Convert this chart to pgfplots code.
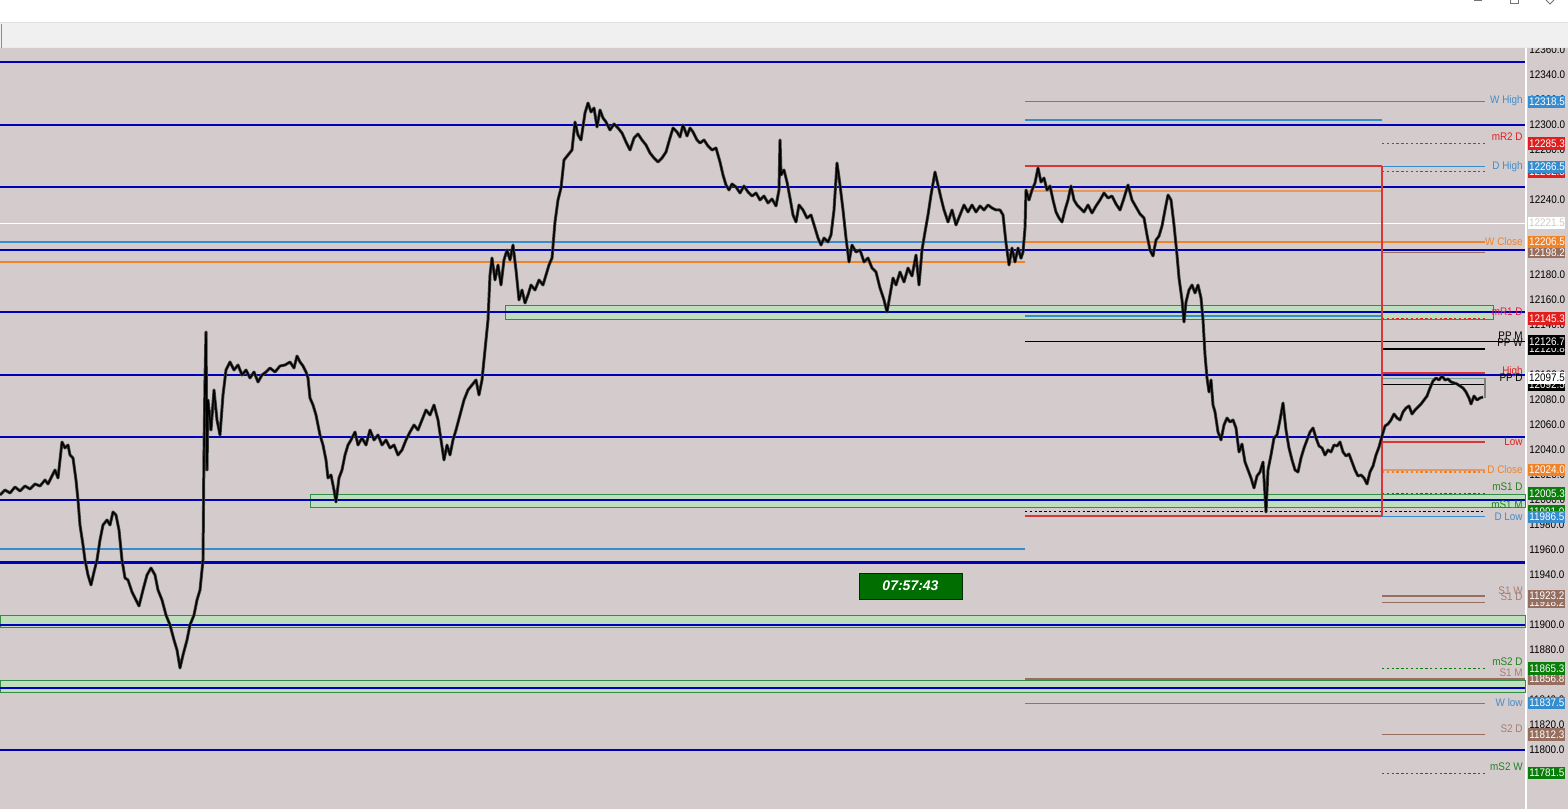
\documentclass[border=0pt]{standalone}
\usepackage{fontspec}
\setmainfont{Liberation Sans}
\newfontfamily\scalefam[FakeStretch=0.9]{Liberation Sans}
\usepackage{pgfplots}
\usepackage{pgfplotstable}
\pgfplotsset{compat=1.18}

\definecolor{chartbg}{RGB}{212,204,204}
\definecolor{lvlblue}{RGB}{0,0,185}
\definecolor{steel}{RGB}{55,140,205}
\definecolor{steeltxt}{RGB}{70,140,200}
\definecolor{lvlorange}{RGB}{240,130,40}
\definecolor{lightorange}{RGB}{235,150,90}
\definecolor{lvlred}{RGB}{225,30,30}
\definecolor{linered}{RGB}{215,55,55}
\definecolor{lvlbrown}{RGB}{150,110,95}
\definecolor{browntxt}{RGB}{165,125,115}
\definecolor{lvlgreen}{RGB}{10,125,10}
\definecolor{greentxt}{RGB}{30,130,30}
\definecolor{zonefill}{RGB}{190,222,190}
\definecolor{zoneedge}{RGB}{50,140,70}
\definecolor{ppteal}{RGB}{110,160,160}
\definecolor{toolbar}{RGB}{240,240,240}
\definecolor{clockgreen}{RGB}{0,110,0}

\newcommand{\lblfont}{\scalefam\fontsize{5.5}{6.5}\selectfont}

% traded price, one row per sampled bar position
\pgfplotstableread{
x p
0 12004
5 12008
10 12005.6
15 12010.4
20 12007.2
25 12011.2
30 12008.8
35 12012.8
40 12011.2
45 12016
48 12012.8
52 12019.2
55 12024
58 12017.6
62 12046.4
65 12041.6
68 12044
70 12036
73 12033.6
76 12016
78 12000
80 11980
83 11964
85 11952
88 11940
91 11932
94 11942.4
97 11952
100 11968
103 11980
107 11984
110 11980
113 11990.4
116 11988
119 11976
122 11952
125 11937.6
128 11936
132 11926.4
136 11920
139 11915.2
143 11928
147 11940
151 11945.6
155 11940
158 11928
162 11920
166 11908
170 11900
174 11888
177 11880
180 11865.6
183 11876
187 11888
190 11900
194 11908
197 11920
200 11928
203 11952
204 12040
205 12096
206 12134.4
207 12024
208 12080
211 12056
214 12088
217 12064
220 12052
223 12084
226 12104
230 12110.4
234 12104
238 12108
242 12100
246 12104
250 12097.6
254 12102.4
258 12094.4
262 12100
266 12102.4
270 12105.6
275 12102.4
280 12107.2
285 12108
290 12110.4
294 12105.6
297 12115.2
300 12110.4
303 12107.2
306 12102.4
308 12097.6
310 12081.6
313 12076
316 12068
320 12052
323 12044
326 12032
328 12017.6
331 12020
334 12008
336 11998.4
339 12017.6
342 12024
345 12036
348 12044
351 12048
355 12054.4
358 12044
362 12049.6
366 12044
370 12056
374 12048
378 12052
382 12044
386 12048
390 12041.6
394 12044
398 12036
402 12040
406 12048
410 12054.4
414 12060
418 12056
422 12064
426 12072
430 12068
434 12076
438 12064
441 12048
444 12032
447 12044
450 12036
453 12048
456 12056
460 12068
464 12080
468 12088
472 12092
476 12096
479 12084
482 12096
485 12120
488 12144
490 12180
492 12193.6
495 12176
498 12188
501 12172
504 12192
507 12200
510 12192
513 12204
516 12184
519 12160
522 12168
525 12157.6
528 12164
531 12172
535 12168
539 12176
543 12172
546 12180
549 12188
552 12193.6
555 12222.4
558 12240
561 12249.6
564 12272
568 12276
572 12280
575 12302.4
578 12292
581 12288
585 12309.6
588 12317.6
591 12310.4
594 12313.6
597 12298.4
600 12312
603 12305.6
606 12302.4
610 12296
614 12300.8
618 12297.6
622 12293.6
626 12286.4
630 12280
634 12289.6
638 12292.8
642 12288
646 12284
650 12277.6
654 12273.6
658 12270.4
662 12273.6
666 12278.4
670 12289.6
673 12297.6
677 12294.4
680 12290.4
683 12300
687 12291.2
690 12297.6
693 12294.4
697 12288
700 12285.6
704 12288
708 12283.2
712 12280
716 12281.6
720 12270.4
723 12260
726 12252
729 12248
732 12252.8
736 12250.4
740 12245.6
744 12251.2
748 12246.4
752 12243.2
756 12245.6
760 12240
764 12243.2
768 12237.6
772 12240.8
776 12235.2
779 12248
780 12288
781 12260
784 12264
787 12254.4
790 12241.6
793 12228
796 12222.4
799 12236
803 12232
807 12225.6
811 12228
815 12217.6
818 12209.6
821 12204
824 12209.6
828 12206.4
831 12212
834 12232
837 12269.6
840 12252
843 12232
846 12209.6
849 12190.4
852 12204
856 12198.4
860 12200
864 12190.4
868 12193.6
872 12185.6
876 12182.4
880 12169.6
884 12160
887 12150.4
890 12164
893 12177.6
896 12172
900 12182.4
904 12174.4
908 12185.6
912 12179.2
916 12196
919 12172
922 12200
925 12214.4
928 12228
931 12244
935 12262.4
938 12252
941 12241.6
944 12232
948 12222.4
952 12232
956 12220
960 12228
964 12236
968 12230.4
972 12236
976 12230.4
980 12235.2
984 12232
988 12236
992 12233.6
996 12232
1000 12232
1003 12228
1006 12205.6
1009 12188
1012 12201.6
1015 12190.4
1018 12201.6
1021 12193.4
1023 12198.4
1025 12217.6
1026 12248
1029 12240
1032 12248
1035 12253.6
1038 12265.6
1041 12254.4
1044 12257.6
1047 12248
1050 12251.2
1053 12240
1056 12230.4
1059 12225.6
1062 12222.4
1065 12232
1068 12240
1071 12251.2
1074 12240
1077 12236
1080 12233.6
1084 12230.4
1088 12236
1092 12229.6
1096 12235.2
1100 12240
1104 12245.6
1108 12241.6
1112 12243.2
1116 12236.8
1120 12232
1124 12241.6
1128 12252
1132 12240
1136 12234.4
1140 12228.8
1144 12225.6
1147 12212
1150 12200
1153 12195.2
1156 12208
1159 12211.2
1162 12219.2
1165 12232
1168 12244
1171 12240
1174 12220
1177 12196
1179 12177.6
1182 12160
1184 12142.4
1186 12158.4
1189 12168
1192 12172
1195 12165.6
1198 12172
1201 12161.6
1203 12144
1205 12116
1207 12097.6
1209 12086.4
1211 12096
1213 12076
1215 12070.4
1218 12054.4
1221 12048
1224 12060
1227 12065.6
1230 12062.4
1233 12064
1236 12057.6
1239 12038.4
1242 12044.8
1245 12030.4
1248 12024
1251 12017.6
1254 12009.6
1257 12019.2
1260 12022.4
1263 12030.4
1266 11990.4
1268 12024
1271 12036
1274 12049.6
1277 12052
1280 12064
1283 12077.6
1286 12056
1289 12041.6
1292 12032
1295 12024
1298 12022.4
1301 12033.6
1304 12041.6
1307 12048
1310 12054.4
1313 12057.6
1316 12049.6
1319 12043.2
1322 12041.6
1325 12036
1328 12040
1331 12038.4
1334 12044
1337 12043.2
1340 12046.4
1343 12038.4
1346 12035.2
1349 12036.8
1352 12030.4
1355 12024
1358 12019.2
1361 12020
1364 12017.6
1367 12012.8
1370 12022.4
1373 12027.2
1376 12036
1379 12042.4
1382 12051.2
1385 12059.2
1388 12060.8
1391 12064
1394 12068.8
1397 12065.6
1400 12064
1403 12070.4
1406 12073.6
1409 12075.2
1412 12068.8
1415 12072
1418 12074.4
1421 12076.8
1424 12080
1427 12083.2
1430 12089.6
1433 12095.2
1436 12097.6
1439 12096
1442 12099.2
1445 12096
1448 12096.8
1451 12094.4
1454 12093.6
1457 12092.8
1460 12091.2
1463 12089.6
1466 12086.4
1469 12081.6
1471 12076.8
1474 12083.2
1477 12080
1480 12081.6
1483 12082.4
}\pricetable

\begin{document}
\begin{tikzpicture}[
  pbox/.style={anchor=west, inner sep=0pt, minimum width=18.5pt, minimum height=6.2pt,
                text=white, font=\lblfont},
  lbl/.style={anchor=east, inner sep=0pt, font=\lblfont}]

\begin{axis}[
  at={(0,0)}, anchor=south west,
  scale only axis, width=762.5pt, height=380.5pt,
  xmin=0, xmax=1525, ymin=11752.8, ymax=12361.6,
  axis line style={draw=none},
  axis background/.style={fill=chartbg},
  xtick=\empty,
  ytick={11780,11800,...,12360},
  scaled y ticks=false,
  yticklabel pos=right,
  major tick length=0pt,
  yticklabel={\pgfmathprintnumber[fixed,fixed zerofill,precision=1,set thousands separator={},assume math mode=true]{\tick}},
  yticklabel style={font=\lblfont, anchor=west, inner sep=0pt, xshift=2pt},
  clip=false, set layers,
  lvl/.style={lvlblue, line width=1pt},
  zone/.style={fill=zonefill, draw=zoneedge, line width=0.5pt},
  thin/.style={line width=0.55pt},
  dsh/.style={line width=0.55pt, dash pattern=on 1.2pt off 1.2pt},
]

% price scale strip and separator, under the tick labels
\begin{pgfonlayer}{axis background}
\fill[chartbg] (axis cs:1525,11752.8) rectangle (axis cs:1568,12361.6);
\draw[white, line width=0.7pt] (axis cs:1526,11752.8) -- (axis cs:1526,12361.6);
\end{pgfonlayer}

% supply / demand zones
\addplot[zone] coordinates {(505,12144) (1493,12144) (1493,12155.2) (505,12155.2)} -- cycle;
\addplot[zone] coordinates {(310,11993.6) (1525,11993.6) (1525,12004) (310,12004)} -- cycle;
\addplot[zone] coordinates {(0,11898.4) (1525,11898.4) (1525,11908) (0,11908)} -- cycle;
\addplot[zone] coordinates {(0,11846.4) (1525,11846.4) (1525,11856) (0,11856)} -- cycle;

% round-number levels
\addplot[lvl] coordinates {(0,12350) (1525,12350)};
\addplot[lvl] coordinates {(0,12300) (1525,12300)};
\addplot[lvl] coordinates {(0,12250) (1525,12250)};
\addplot[lvl] coordinates {(0,12200) (1525,12200)};
\addplot[lvl] coordinates {(0,12150) (1525,12150)};
\addplot[lvl] coordinates {(0,12100) (1525,12100)};
\addplot[lvl] coordinates {(0,12050) (1525,12050)};
\addplot[lvl] coordinates {(0,12000) (1525,12000)};
\addplot[lvl] coordinates {(0,11950) (1525,11950)};
\addplot[lvl] coordinates {(0,11900) (1525,11900)};
\addplot[lvl] coordinates {(0,11850) (1525,11850)};
\addplot[lvl] coordinates {(0,11800) (1525,11800)};

% previous-session levels (left part)
\addplot[white, line width=0.6pt] coordinates {(0,12221.5) (1525,12221.5)};
\addplot[steel, thin] coordinates {(0,12206.4) (1025,12206.4)};
\addplot[lvlorange, line width=1pt] coordinates {(0,12190.4) (1025,12190.4)};
\addplot[steel, thin] coordinates {(0,11960.8) (1025,11960.8)};

% weekly / monthly levels
\addplot[steel, thin] coordinates {(1025,12318.5) (1485,12318.5)};
\addplot[steel, thin] coordinates {(1025,12304) (1382,12304)};
\addplot[linered, thin] coordinates {(1025,12267.2) (1382,12267.2)};
\addplot[lightorange, thin] coordinates {(1025,12247.2) (1382,12247.2)};
\addplot[lvlorange, line width=0.8pt] coordinates {(1025,12206.5) (1485,12206.5)};
\addplot[steel, thin] coordinates {(1025,12147.2) (1382,12147.2)};
\addplot[black, thin] coordinates {(1025,12126.7) (1525,12126.7)};
\addplot[black, dsh] coordinates {(1025,11991) (1485,11991)};
\addplot[linered, thin] coordinates {(1025,11987.2) (1382,11987.2)};
\addplot[lvlbrown, thin] coordinates {(1025,11856.8) (1525,11856.8)};
\addplot[steel, thin] coordinates {(1025,11837.5) (1485,11837.5)};

% daily levels
\addplot[lvlred, dsh] coordinates {(1382,12285.3) (1485,12285.3)};
\addplot[steel, thin] coordinates {(1382,12266.5) (1485,12266.5)};
\addplot[lvlred, dsh] coordinates {(1382,12262.5) (1485,12262.5)};
\addplot[lvlbrown, thin] coordinates {(1382,12198.2) (1485,12198.2)};
\addplot[lvlred, dsh] coordinates {(1382,12145.3) (1485,12145.3)};
\addplot[black, line width=1pt] coordinates {(1382,12120.8) (1485,12120.8)};
\addplot[linered, thin] coordinates {(1382,12101.6) (1485,12101.6)};
\addplot[ppteal, thin] coordinates {(1382,12097.5) (1485,12097.5)};
\addplot[black, thin] coordinates {(1382,12092.5) (1485,12092.5)};
\addplot[gray, thin] coordinates {(1485,12097.5) (1485,12081.6)};
\addplot[linered, thin] coordinates {(1382,12046.4) (1485,12046.4)};
\addplot[lightorange, thin] coordinates {(1382,12024) (1485,12024)};
\addplot[lvlorange, dsh] coordinates {(1382,12022.4) (1485,12022.4)};
\addplot[lvlgreen, dsh] coordinates {(1382,12005.3) (1485,12005.3)};
\addplot[steel, thin] coordinates {(1382,11986.5) (1485,11986.5)};
\addplot[lvlbrown, thin] coordinates {(1382,11923.2) (1485,11923.2)};
\addplot[lvlbrown, thin] coordinates {(1382,11918.2) (1485,11918.2)};
\addplot[lvlgreen, dsh] coordinates {(1382,11865.3) (1485,11865.3)};
\addplot[lvlbrown, thin] coordinates {(1382,11812.3) (1485,11812.3)};
\addplot[lvlgreen, dsh] coordinates {(1382,11781.5) (1485,11781.5)};
\addplot[linered, thin] coordinates {(1382,12267.2) (1382,11987.2)};

% price, drawn as a heavy grey band with a black core
\addplot[black!75, line width=1.5pt, line join=round] table[x=x, y=p] {\pricetable};
\addplot[black, line width=0.7pt, line join=round] table[x=x, y=p] {\pricetable};

% level names
\node[lbl, text=steeltxt] at (axis cs:1523,12319.2) {W High};
\node[lbl, text=lvlred] at (axis cs:1523,12290.4) {mR2 D};
\node[lbl, text=steeltxt] at (axis cs:1523,12266.4) {D High};
\node[lbl, text=lvlorange] at (axis cs:1523,12206.4) {W Close};
\node[lbl, text=lvlred!80!magenta] at (axis cs:1523,12150.4) {mR1 D};
\node[lbl, text=black] at (axis cs:1523,12131.2) {PP M};
\node[lbl, text=black] at (axis cs:1523,12125.6) {PP W};
\node[lbl, text=lvlred] at (axis cs:1523,12102.4) {High};
\node[lbl, text=black] at (axis cs:1523,12097.6) {PP D};
\node[lbl, text=lvlred] at (axis cs:1523,12046.4) {Low};
\node[lbl, text=lvlorange] at (axis cs:1523,12024) {D Close};
\node[lbl, text=greentxt] at (axis cs:1523,12010.4) {mS1 D};
\node[lbl, text=greentxt] at (axis cs:1523,11996) {mS1 M};
\node[lbl, text=steeltxt] at (axis cs:1523,11986.4) {D Low};
\node[lbl, text=browntxt] at (axis cs:1523,11927.2) {S1 W};
\node[lbl, text=browntxt] at (axis cs:1523,11922.4) {S1 D};
\node[lbl, text=greentxt] at (axis cs:1523,11870.4) {mS2 D};
\node[lbl, text=browntxt] at (axis cs:1523,11861.6) {S1 M};
\node[lbl, text=steeltxt] at (axis cs:1523,11837.6) {W low};
\node[lbl, text=browntxt] at (axis cs:1523,11816.8) {S2 D};
\node[lbl, text=greentxt] at (axis cs:1523,11786.4) {mS2 W};

% price tags on the scale
\node[pbox, fill=steel] at (axis cs:1528,12318.5) {12318.5};
\node[pbox, fill=lvlred] at (axis cs:1528,12285.3) {12285.3};
\node[pbox, fill=lvlred] at (axis cs:1528,12262.5) {12262.5};
\node[pbox, fill=steel] at (axis cs:1528,12266.5) {12266.5};
\node[pbox, fill=white, text=black!20] at (axis cs:1528,12221.5) {12221.5};
\node[pbox, fill=lvlbrown] at (axis cs:1528,12198.2) {12198.2};
\node[pbox, fill=lvlorange] at (axis cs:1528,12206.5) {12206.5};
\node[pbox, fill=lvlred] at (axis cs:1528,12145.3) {12145.3};
\node[pbox, fill=black] at (axis cs:1528,12120.8) {12120.8};
\node[pbox, fill=black] at (axis cs:1528,12126.7) {12126.7};
\node[pbox, fill=black] at (axis cs:1528,12092.5) {12092.5};
\node[pbox, fill=white, text=black] at (axis cs:1528,12097.5) {12097.5};
\node[pbox, fill=lvlorange] at (axis cs:1528,12024.0) {12024.0};
\node[pbox, fill=lvlgreen] at (axis cs:1528,11991.0) {11991.0};
\node[pbox, fill=lvlgreen] at (axis cs:1528,12005.3) {12005.3};
\node[pbox, fill=steel] at (axis cs:1528,11986.5) {11986.5};
\node[pbox, fill=lvlbrown] at (axis cs:1528,11918.2) {11918.2};
\node[pbox, fill=lvlbrown] at (axis cs:1528,11923.2) {11923.2};
\node[pbox, fill=lvlbrown] at (axis cs:1528,11856.8) {11856.8};
\node[pbox, fill=lvlgreen] at (axis cs:1528,11865.3) {11865.3};
\node[pbox, fill=steel] at (axis cs:1528,11837.5) {11837.5};
\node[pbox, fill=lvlbrown] at (axis cs:1528,11812.3) {11812.3};
\node[pbox, fill=lvlgreen] at (axis cs:1528,11781.5) {11781.5};

% session clock
\node[fill=clockgreen, draw=black!60!clockgreen, line width=0.4pt, inner sep=0pt,
      minimum width=51.5pt, minimum height=13pt, text=white,
      font=\fontsize{7}{8}\selectfont\bfseries\itshape] at (axis cs:910.5,11931.2) {07:57:43};
\end{axis}

% window chrome
\fill[toolbar] (0,380.5pt) rectangle (784pt,393.5pt);
\draw[black!12, line width=0.4pt] (0,393.3pt) -- (784pt,393.3pt);
\draw[black!8, line width=0.4pt] (0,380.7pt) -- (784pt,380.7pt);
\draw[black!45, line width=0.5pt] (0.5pt,380.5pt) -- (0.5pt,392.5pt);
\fill[white] (0,393.5pt) rectangle (784pt,404.5pt);
\draw[black!55, line width=0.4pt] (737pt,404.2pt) -- (741pt,404.2pt);
\draw[black!55, line width=0.4pt] (755pt,404.5pt) -- (755pt,402.6pt) -- (759pt,402.6pt) -- (759pt,404.5pt);
\draw[black!55, line width=0.4pt] (773pt,404.5pt) -- (775pt,402.5pt) -- (777pt,404.5pt);

\pgfresetboundingbox
\path[use as bounding box] (0,0) rectangle (784pt,404.5pt);
\end{tikzpicture}
\end{document}
